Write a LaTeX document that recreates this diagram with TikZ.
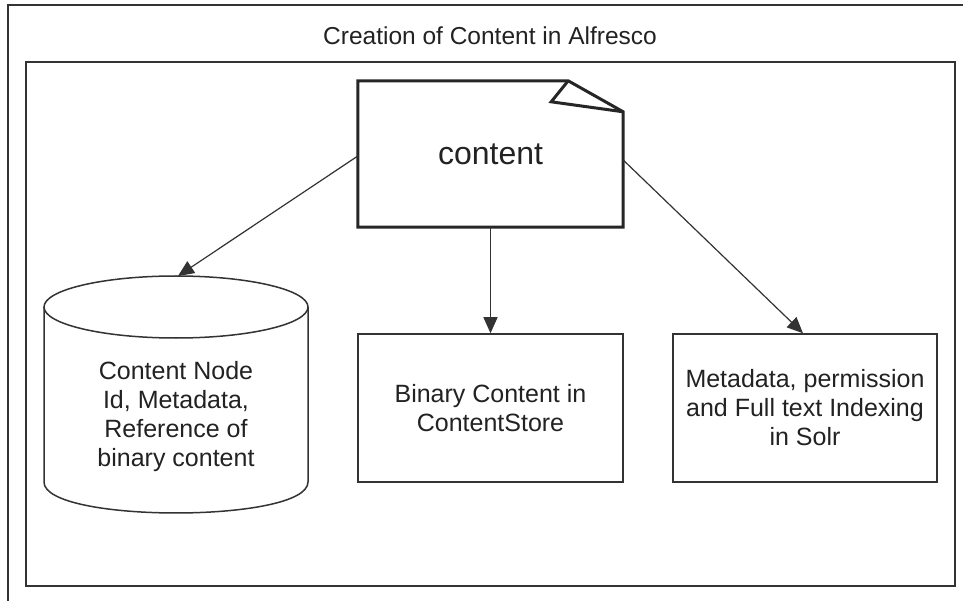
\documentclass[tikz,border=0pt]{standalone}
\usepackage{fontspec}
\setmainfont{Liberation Sans}
\usetikzlibrary{arrows.meta}
\definecolor{ln}{HTML}{333333}
\definecolor{tx}{HTML}{222222}
\tikzset{
  frame/.style={draw=ln, line width=1.5pt},
  plainbox/.style={draw=ln, line width=1.5pt, align=center, text=tx, font=\fontsize{25}{29}\selectfont, inner sep=0pt},
  txt/.style={align=center, text=tx, font=\fontsize{25}{29}\selectfont, inner sep=0pt},
  conn/.style={draw=ln, line width=1.2pt, -{Triangle[length=16pt,width=14pt]}},
}
\begin{document}
\begin{tikzpicture}[x=1pt,y=-1pt]
\useasboundingbox (0,0) rectangle (963,601);
\fill[white] (0,0) rectangle (963,601);
% outer frame (cropped at right and bottom)
\draw[frame] (8,610) -- (8,5) -- (970,5);
\node[txt, font=\fontsize{24.5}{29}\selectfont] (title) at (490,36) {Creation of Content in Alfresco};
% inner frame
\draw[frame, line width=2pt] (26,62) rectangle (955,586);
% content document
\node[minimum width=265pt, minimum height=146pt, inner sep=0pt, text=tx, font=\fontsize{32}{36}\selectfont] (content) at (490.5,154) {content};
\draw[draw=black!85, line width=3pt, line join=miter]
  (content.north west) -- ([xshift=-55pt]content.north east) -- ([yshift=-31pt]content.north east) -- (content.south east) -- (content.south west) -- cycle;
\draw[draw=black!85, line width=3pt, line join=miter]
  ([xshift=-55pt]content.north east) -- ([xshift=-72pt,yshift=-21pt]content.north east) -- ([yshift=-31pt]content.north east);
% cylinder
\draw[frame] (176,307) ellipse [x radius=132, y radius=31];
\draw[frame] (44,307) -- (44,482) .. controls (44,523.3) and (308,523.3) .. (308,482) -- (308,307);
\node[txt] (db) at (176,417) {Content Node\\Id, Metadata,\\Reference of\\binary content};
\coordinate (dbtop) at (178,276);
% boxes
\node[plainbox, minimum width=265pt, minimum height=148pt] (store) at (490.5,408) {Binary Content in\\ContentStore};
\node[plainbox, minimum width=264pt, minimum height=148pt] (solr) at (805,408) {Metadata, permission\\and Full text Indexing\\in Solr};
% connectors
\draw[conn] ([yshift=-2pt]content.west) -- (dbtop);
\draw[conn] (content.south) -- (store.north);
\draw[conn] ([yshift=-6pt]content.east) -- ([xshift=-2pt]solr.north);
\end{tikzpicture}
\end{document}
